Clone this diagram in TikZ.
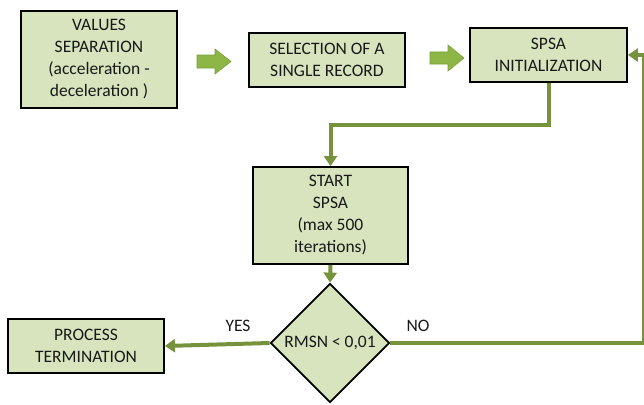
\documentclass[tikz,border=0pt]{standalone}
\usepackage{fontspec}
\setmainfont{Carlito}
\usetikzlibrary{arrows.meta,shapes.geometric}
\definecolor{boxfill}{HTML}{D7E4BD}
\definecolor{lineg}{HTML}{76923C}
\definecolor{blkfill}{HTML}{8DB646}
\definecolor{blkdraw}{HTML}{7A9F3A}
\tikzset{
  box/.style={draw=black, line width=1.8pt, fill=boxfill, align=center, inner sep=0pt,
    font=\fontsize{17.5pt}{22pt}\selectfont, text=black!90},
  conn/.style={draw=lineg, line width=4pt, -{Triangle[length=10pt,width=13pt]}},
  lbl/.style={font=\fontsize{17.5pt}{22pt}\selectfont, text=black!90},
  blk/.style={fill=blkfill, draw=blkdraw, line width=0.6pt}
}
\begin{document}
\begin{tikzpicture}[x=1pt,y=-1pt]
\useasboundingbox (0,0) rectangle (644,404);
\node[box, minimum width=156pt, minimum height=97pt] (b1) at (99,59.5)
  {VALUES\\SEPARATION\\(acceleration -\\deceleration )};
\node[box, minimum width=156pt, minimum height=54pt] (b2) at (327,60)
  {SELECTION OF A\\SINGLE RECORD};
\node[box, minimum width=157pt, minimum height=54pt] (b3) at (548.5,55)
  {SPSA\\INITIALIZATION};
\node[box, minimum width=155pt, minimum height=97pt] (b4) at (330.5,215.5)
  {START\\SPSA\\(max 500\\iterations)};
\node[box, diamond, minimum width=119pt, minimum height=119pt] (dia) at (330,343) {};
\node[lbl] (dtext) at (dia.center) {RMSN < 0,01};
\node[box, minimum width=156pt, minimum height=54pt] (b5) at (86,346)
  {PROCESS\\TERMINATION};
% block arrows
\path[blk] (197,55) -- (215,55) -- (215,49) -- (231,61.5) -- (215,74) -- (215,68) -- (197,68) -- cycle;
\path[blk] (430,52) -- (448,52) -- (448,45) -- (464,58) -- (448,71) -- (448,64) -- (430,64) -- cycle;
% connectors
\coordinate (k1) at (0,125);
\coordinate (c1) at (644,343);
\coordinate (c2) at (644,55);
\draw[conn] (b3.south) -- (b3.south |- k1) -| (b4.north);
\draw[conn] (b4.south) -- (dia.north);
\draw[conn] (dia.west) -- (b5.east);
\draw[conn] (dia.east) -- (c1) -- (c2) -- (b3.east);
\node[lbl] (yes) at (238,326) {YES};
\node[lbl] (no) at (418,326) {NO};
\end{tikzpicture}
\end{document}
